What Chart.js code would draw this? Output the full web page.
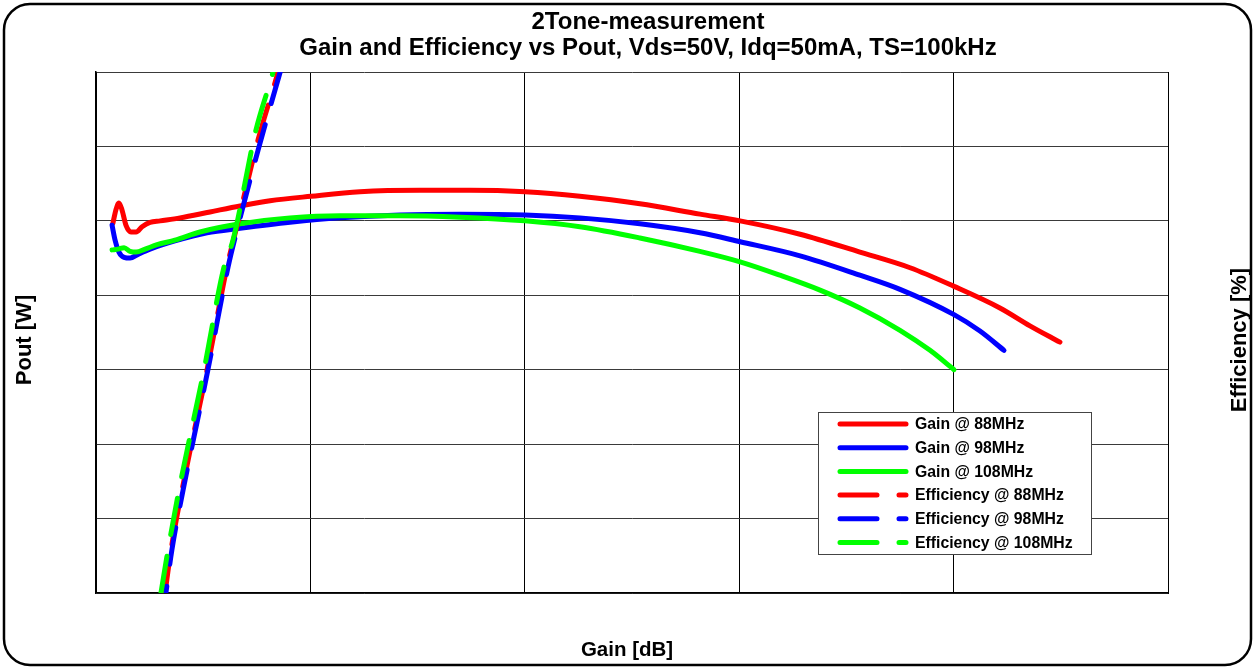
<!DOCTYPE html>
<html>
<head>
<meta charset="utf-8">
<script src="https://cdn.jsdelivr.net/npm/chart.js@4.4.0/dist/chart.umd.min.js"></script>
<style>
  html, body { margin: 0; padding: 0; background: #fff; }
  #wrap { width: 1254px; height: 667px; }
</style>
</head>
<body>
<div id="wrap"><canvas id="chart" width="1254" height="667"></canvas></div>
<script>
// Gain curves: x = Pout position, y = Gain (left axis)
const gain88X = [0.79, 0.93, 1.07, 1.21, 1.40, 1.63, 1.87, 2.15, 2.52, 2.99, 3.92, 5.32, 6.72, 8.12, 10.03, 12.31, 15.11, 17.44, 20.01, 22.57, 25.37, 28.17, 30.04, 32.84, 35.63, 37.97, 40.02, 42.16, 43.56, 44.96];
const gain88Y = [4.97, 5.15, 5.24, 5.15, 4.94, 4.85, 4.85, 4.92, 4.98, 5.00, 5.04, 5.12, 5.20, 5.27, 5.33, 5.39, 5.41, 5.41, 5.39, 5.33, 5.23, 5.09, 5.00, 4.82, 4.58, 4.37, 4.12, 3.83, 3.59, 3.37];

const gain98X = [0.75, 0.89, 1.07, 1.31, 1.59, 1.96, 2.52, 3.68, 5.18, 6.72, 9.05, 11.38, 14.18, 16.98, 20.01, 22.57, 25.37, 28.17, 30.04, 32.84, 35.63, 37.50, 40.02, 41.23, 42.35];
const gain98Y = [4.94, 4.74, 4.58, 4.51, 4.50, 4.55, 4.62, 4.73, 4.84, 4.90, 4.98, 5.04, 5.08, 5.09, 5.08, 5.04, 4.96, 4.84, 4.72, 4.53, 4.27, 4.08, 3.74, 3.52, 3.26];

const gain108X = [0.75, 1.03, 1.31, 1.59, 1.87, 2.29, 2.85, 3.68, 4.85, 6.72, 9.05, 11.38, 14.18, 16.98, 20.01, 22.57, 25.37, 28.17, 30.04, 31.90, 33.77, 35.63, 37.50, 38.90, 40.02];
const gain108Y = [4.61, 4.62, 4.64, 4.59, 4.58, 4.62, 4.68, 4.74, 4.85, 4.96, 5.04, 5.07, 5.07, 5.05, 5.00, 4.92, 4.77, 4.59, 4.45, 4.27, 4.07, 3.83, 3.53, 3.26, 3.00];

// Efficiency curves: x = Pout position, y = Efficiency (right axis)
const eff88X = [3.22, 3.50, 4.01, 5.18, 6.11, 6.53, 7.56, 8.49, 8.63];
const eff88Y = [0, 5.8, 13.8, 30.0, 43.8, 48.8, 60.9, 70.0, 71.6];

const eff98X = [3.26, 3.54, 4.06, 5.22, 6.16, 6.58, 7.56, 8.58, 8.68];
const eff98Y = [0, 5.8, 13.8, 30.0, 43.8, 48.8, 59.5, 69.9, 70.9];

const eff108X = [3.03, 3.36, 3.87, 5.04, 5.97, 6.39, 7.46, 8.26, 8.40];
const eff108Y = [0, 5.8, 13.8, 30.0, 43.8, 47.4, 62.2, 70.0, 71.6];

const seriesLabels = ['Gain @ 88MHz', 'Gain @ 98MHz', 'Gain @ 108MHz', 'Efficiency @ 88MHz', 'Efficiency @ 98MHz', 'Efficiency @ 108MHz'];
const titleLines = ['2Tone-measurement', 'Gain and Efficiency vs Pout, Vds=50V, Idq=50mA, TS=100kHz'];
const xTitle = 'Gain [dB]';
const yTitle = 'Pout [W]';
const y2Title = 'Efficiency [%]';

const RED = '#ff0000', BLUE = '#0000ff', GREEN = '#00ff00';
const DASH = [37, 22];
const FONT = '"Liberation Sans", Arial, sans-serif';

function toPoints(xs, ys) {
    return xs.map((x, i) => ({ x: x, y: ys[i] }));
}

function lineSet(label, xs, ys, color, axis, dashed, idx, dashOffset) {
    return {
        label: label,
        data: toPoints(xs, ys),
        yAxisID: axis,
        borderColor: color,
        backgroundColor: color,
        borderWidth: 5,
        borderDash: dashed ? DASH : [],
        borderDashOffset: dashOffset || 0,
        borderCapStyle: 'round',
        borderJoinStyle: 'round',
        pointRadius: 0,
        fill: false,
        cubicInterpolationMode: 'monotone',
        order: 10 - idx  // later datasets drawn on top
    };
}

const datasets = [
    lineSet(seriesLabels[0], gain88X, gain88Y, RED, 'y', false, 0),
    lineSet(seriesLabels[1], gain98X, gain98Y, BLUE, 'y', false, 1),
    lineSet(seriesLabels[2], gain108X, gain108Y, GREEN, 'y', false, 2),
    lineSet(seriesLabels[3], eff88X, eff88Y, RED, 'y2', true, 3, 10),
    lineSet(seriesLabels[4], eff98X, eff98Y, BLUE, 'y2', true, 4, 30),
    lineSet(seriesLabels[5], eff108X, eff108Y, GREEN, 'y2', true, 5, 0)
];

// rotated text reading bottom to top
function verticalText(ctx, text, x, y) {
    ctx.save();
    ctx.translate(x, y);
    ctx.rotate(-Math.PI / 2);
    ctx.fillText(text, 0, 0);
    ctx.restore();
}

// Frame, title, axis titles and legend box drawn by hand
const decorPlugin = {
    id: 'decor',
    beforeDraw(chart) {
        const ctx = chart.ctx;
        ctx.save();
        ctx.fillStyle = '#fff';
        ctx.fillRect(0, 0, chart.width, chart.height);
        ctx.restore();
    },
    afterDraw(chart) {
        const ctx = chart.ctx;
        ctx.save();

        // rounded outer frame
        ctx.strokeStyle = '#000';
        ctx.lineWidth = 2.5;
        ctx.beginPath();
        ctx.roundRect(4, 4, 1247, 661, 26);
        ctx.stroke();

        // title
        ctx.fillStyle = '#000';
        ctx.textAlign = 'center';
        ctx.textBaseline = 'alphabetic';
        ctx.font = 'bold 24px ' + FONT;
        ctx.fillText(titleLines[0], 648, 29);
        ctx.fillText(titleLines[1], 648, 55);

        // axis titles
        ctx.font = 'bold 20.5px ' + FONT;
        ctx.fillText(xTitle, 627, 656);
        ctx.font = 'bold 22px ' + FONT;
        verticalText(ctx, yTitle, 31, 340);
        verticalText(ctx, y2Title, 1246, 340);

        // legend
        const lx = 818, ly = 412, lw = 273, lh = 142;
        ctx.fillStyle = '#fff';
        ctx.fillRect(lx, ly, lw, lh);
        ctx.strokeStyle = '#444';
        ctx.lineWidth = 1;
        ctx.strokeRect(lx + 0.5, ly + 0.5, lw, lh);
        ctx.font = 'bold 15.8px ' + FONT;
        ctx.textAlign = 'left';
        ctx.textBaseline = 'middle';
        chart.data.datasets.forEach((ds, i) => {
            const y = 424 + i * 23.7;
            ctx.strokeStyle = ds.borderColor;
            ctx.lineWidth = 5;
            ctx.lineCap = 'round';
            ctx.setLineDash(ds.borderDash);
            ctx.lineDashOffset = 0;
            ctx.beginPath();
            ctx.moveTo(840, y);
            ctx.lineTo(906, y);
            ctx.stroke();
            ctx.setLineDash([]);
            ctx.fillStyle = '#000';
            ctx.fillText(ds.label, 915, y + 1);
        });
        ctx.restore();
    }
};

const config = {
    type: 'line',
    data: { datasets: datasets },
    options: {
        responsive: false,
        animation: false,
        events: [],
        layout: { padding: { top: 72, left: 0, right: 0, bottom: 0 } },
        plugins: {
            legend: { display: false },
            title: { display: false },
            tooltip: { enabled: false }
        },
        scales: {
            x: {
                type: 'linear',
                min: 0,
                max: 50,
                ticks: { display: false, stepSize: 10 },
                grid: { color: '#000', lineWidth: 1, drawTicks: false },
                border: { color: '#000', width: 1.5 },
                afterFit(scale) { scale.height = 74; }
            },
            y: {
                type: 'linear',
                position: 'left',
                min: 0,
                max: 7,
                ticks: { display: false, stepSize: 1 },
                grid: { color: '#3a3a3a', lineWidth: 1, drawTicks: false },
                border: { color: '#000', width: 1.5 },
                afterFit(scale) { scale.width = 96; }
            },
            y2: {
                type: 'linear',
                position: 'right',
                min: 0,
                max: 70,
                ticks: { display: false, stepSize: 10 },
                grid: { display: false, drawTicks: false },
                border: { color: '#000', width: 1 },
                afterFit(scale) { scale.width = 86; }
            }
        }
    },
    plugins: [decorPlugin]
};

document.addEventListener('DOMContentLoaded', function() {
    const canvas = document.getElementById('chart');
    window.myChart = new Chart(canvas.getContext('2d'), config);
});
</script>
</body>
</html>
